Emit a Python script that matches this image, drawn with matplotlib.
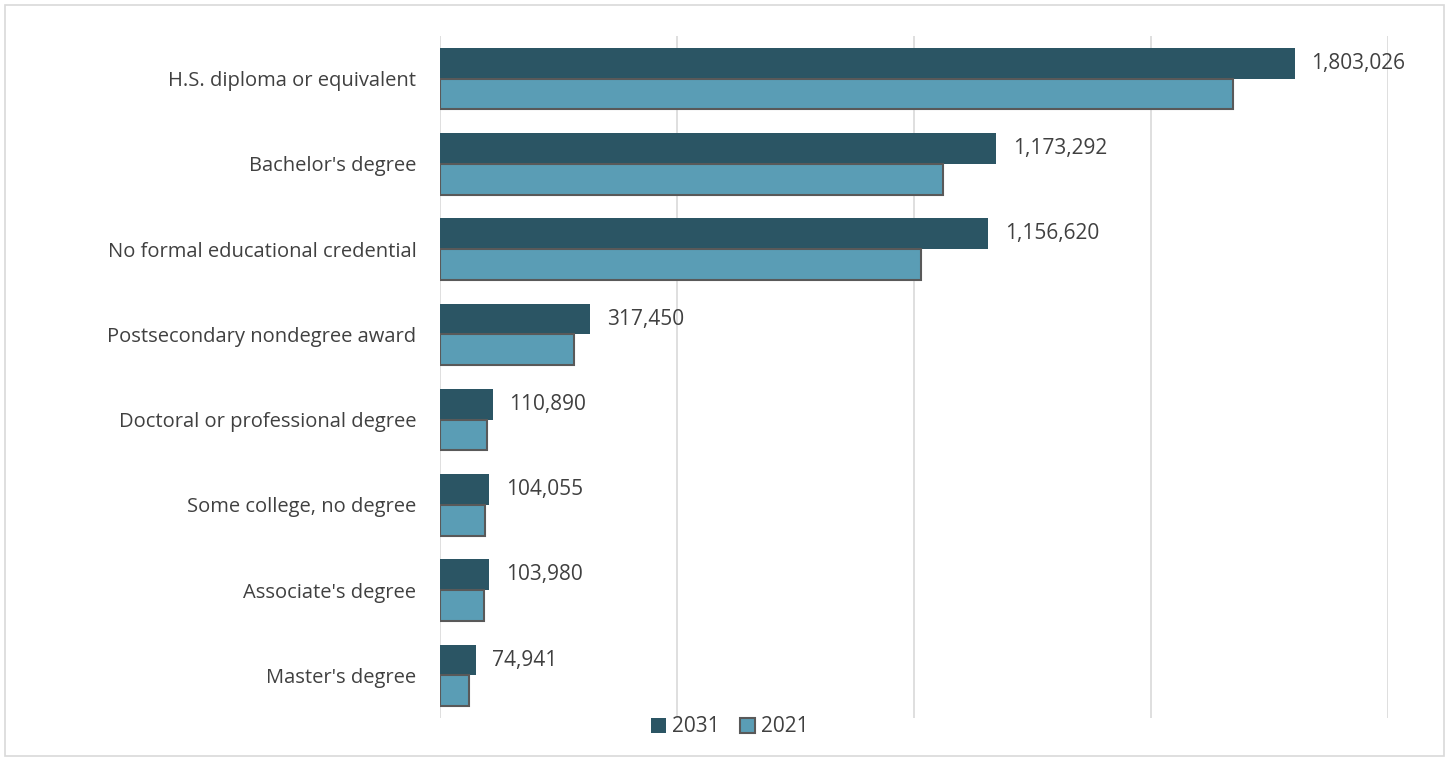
import matplotlib
matplotlib.use("Agg")
from matplotlib import pyplot as plt
from matplotlib.patches import Rectangle
import numpy as np

categories = [
    "H.S. diploma or equivalent",
    "Bachelor's degree",
    "No formal educational credential",
    "Postsecondary nondegree award",
    "Doctoral or professional degree",
    "Some college, no degree",
    "Associate's degree",
    "Master's degree",
]
values_2031 = [1803026, 1173292, 1156620, 317450, 110890, 104055, 103980, 74941]
values_2021 = [1673000, 1061000, 1015000, 283000, 99000, 95000, 93000, 61000]

dark = "#2B5564"
light = "#5A9DB5"
text_color = "#404040"

plt.rcParams["font.family"] = ["Open Sans", "DejaVu Sans"]

fig = plt.figure(figsize=(14.49, 7.61), dpi=100)
ax = fig.add_axes([440 / 1449, 1 - 718 / 761, (1388 - 440) / 1449, (718 - 36) / 761])

y = np.arange(len(categories))
h = 0.36
ax.barh(y - h / 2, values_2031, height=h, color=dark, label="2031", zorder=3)
ax.barh(y + h / 2, values_2021, height=h, color=light, edgecolor="#595959",
        linewidth=1.5, label="2021", zorder=3)

for yi, v in zip(y, values_2031):
    ax.annotate(f"{v:,}", (v, yi - h / 2), xytext=(12, 0), textcoords="offset points",
                va="center", ha="left", fontsize=15, color=text_color)

ax.set_xlim(0, 2000000)
ax.set_ylim(len(categories) - 0.5, -0.5)
ax.set_xticks(np.arange(0, 2000001, 500000))
ax.set_xticklabels([])
ax.xaxis.grid(True, color="#d9d9d9", linewidth=1.2, zorder=0)
ax.set_yticks(y)
ax.set_yticklabels(categories, fontsize=14.5, color=text_color)
ax.tick_params(axis="both", length=0)
ax.tick_params(axis="y", pad=17)
for s in ax.spines.values():
    s.set_visible(False)

leg = fig.legend(loc="center", bbox_to_anchor=(730 / 1449, 1 - 727 / 761), ncol=2,
                 frameon=False, fontsize=15, handlelength=0.7, handleheight=0.7,
                 handletextpad=0.3, columnspacing=1.0, labelcolor=text_color)

fig.patches.append(Rectangle((5 / 1449, 5 / 761), 1439 / 1449, 751 / 761,
                             transform=fig.transFigure, fill=False,
                             edgecolor="#d9d9d9", linewidth=1.2))

fig.savefig("out.png", dpi=100)
